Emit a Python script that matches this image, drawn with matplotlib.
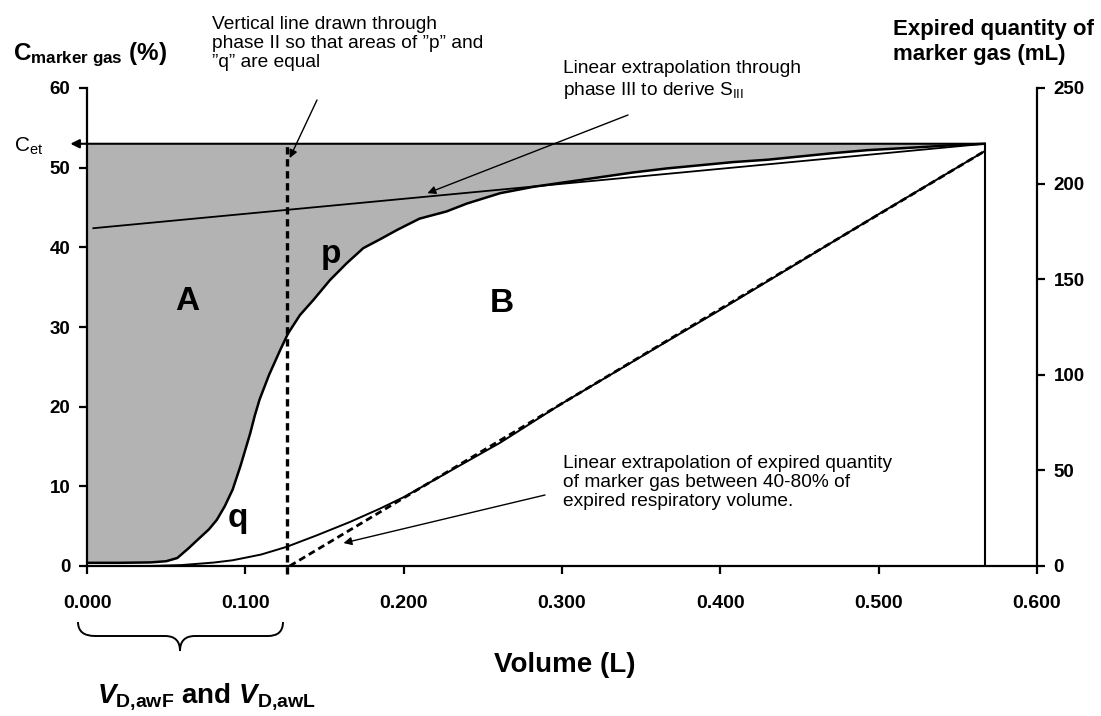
import matplotlib
matplotlib.use("Agg")
import matplotlib.pyplot as plt
from matplotlib.path import Path
from matplotlib.patches import PathPatch

plt.rcParams['font.family'] = ['Liberation Sans', 'DejaVu Sans']
plt.rcParams['mathtext.fontset'] = 'custom'
plt.rcParams['mathtext.rm'] = 'Liberation Sans'
plt.rcParams['mathtext.it'] = 'Liberation Sans:italic'
plt.rcParams['mathtext.bf'] = 'Liberation Sans:bold'
plt.rcParams['mathtext.bfit'] = 'Liberation Sans:bold:italic'

# ---- data ----
volume_c = [0.0, 0.02, 0.04, 0.05, 0.057, 0.064, 0.071, 0.077, 0.082, 0.087, 0.092,
            0.097, 0.100, 0.103, 0.106, 0.109, 0.115, 0.122, 0.127, 0.1345, 0.143,
            0.1535, 0.164, 0.1745, 0.185, 0.196, 0.210, 0.227, 0.240, 0.261, 0.282,
            0.303, 0.324, 0.345, 0.366, 0.387, 0.408, 0.430, 0.450, 0.470, 0.493,
            0.520, 0.545, 0.567]
conc = [0.4, 0.4, 0.45, 0.6, 1.0, 2.2, 3.5, 4.6, 5.8, 7.5, 9.6,
        12.6, 14.6, 16.6, 18.9, 20.9, 24.0, 27.1, 29.2, 31.5, 33.4,
        35.9, 38.0, 39.9, 41.0, 42.2, 43.6, 44.5, 45.5, 46.8, 47.6,
        48.2, 48.8, 49.4, 49.9, 50.3, 50.7, 51.0, 51.4, 51.8, 52.2,
        52.5, 52.8, 53.0]

volume_q = [0.0, 0.04, 0.06, 0.08, 0.092, 0.11, 0.126, 0.145, 0.166, 0.185, 0.2,
            0.23, 0.261, 0.3, 0.35, 0.4, 0.45, 0.5, 0.567]
quantity = [0, 0, 0.5, 1.8, 3, 6, 10, 16, 23, 30, 36,
            50, 64.5, 85, 109.5, 134, 159, 184, 217]

extrap_v = [0.128, 0.567]
extrap_q = [0, 217]

phase3_v = [0.004, 0.567]
phase3_c = [42.4, 53.0]

c_et = 53.0
v_dead = 0.1265
v_end = 0.567

x_ticks = [0.0, 0.1, 0.2, 0.3, 0.4, 0.5, 0.6]
x_labels = ['0.000', '0.100', '0.200', '0.300', '0.400', '0.500', '0.600']
y_ticks = [0, 10, 20, 30, 40, 50, 60]
y2_ticks = [0, 50, 100, 150, 200, 250]

W, H = 1101, 716
fig = plt.figure(figsize=(W / 100, H / 100), dpi=100)
ax = fig.add_axes([87 / W, 1 - 566 / H, (1037 - 87) / W, (566 - 88) / H])
ax2 = ax.twinx()

ax.set_xlim(0, 0.6)
ax.set_ylim(0, 60)
ax2.set_ylim(0, 250)

gray = '#b3b3b3'
ax.fill_between(volume_c, conc, c_et, color=gray, lw=0, zorder=1)
ax.plot(volume_c, conc, color='black', lw=1.8, zorder=3)
ax.plot(phase3_v, phase3_c, color='black', lw=1.3, zorder=3)
# Cet line with arrow to the left
ax.annotate('', xy=(-0.0105, c_et), xytext=(v_end, c_et), xycoords='data',
            arrowprops=dict(arrowstyle='-|>', lw=1.5, color='black',
                            mutation_scale=13, shrinkA=0, shrinkB=0),
            annotation_clip=False, zorder=4)
# end vertical line
ax.plot([v_end, v_end], [0, c_et], color='black', lw=1.5, zorder=3)
# dashed vertical line
ax.plot([v_dead, v_dead], [-1.0, c_et], color='black', lw=2.4, ls=(0, (2.2, 1.4)),
        zorder=4, clip_on=False)

ax2.plot(volume_q, quantity, color='black', lw=1.4, zorder=3)
ax2.plot(extrap_v, extrap_q, color='black', lw=2.0, ls=(0, (2.5, 1.5)), zorder=3)

# spines / ticks
for a in (ax, ax2):
    a.spines['top'].set_visible(False)
    a.patch.set_visible(False)
ax.spines['right'].set_visible(False)
ax2.spines['left'].set_visible(False)
ax2.spines['bottom'].set_visible(False)
for s in ('left', 'bottom'):
    ax.spines[s].set_linewidth(1.6)
ax2.spines['right'].set_linewidth(1.6)

ax.set_xticks(x_ticks)
ax.set_xticklabels(x_labels)
ax.set_yticks(y_ticks)
ax2.set_yticks(y2_ticks)
ax.tick_params(axis='x', direction='out', length=6, width=1.6, pad=15,
               labelsize=14)
ax.tick_params(axis='y', direction='out', length=6, width=1.6, pad=6,
               labelsize=13.5)
ax2.tick_params(axis='y', direction='out', length=6, width=1.6, pad=6,
                labelsize=13.5)
for lab in ax.get_xticklabels() + ax.get_yticklabels() + ax2.get_yticklabels():
    lab.set_fontweight('bold')

# overlay for pixel-positioned text
ov = fig.add_axes([0, 0, 1, 1], zorder=10)
ov.set_xlim(0, W)
ov.set_ylim(H, 0)
ov.axis('off')
ov.patch.set_visible(False)

ov.text(13, 55, r'$\mathbf{C}_{\mathbf{marker\ gas}}$ (%)', fontsize=17.5,
        fontweight='bold', ha='left', va='center')
ov.text(14, 146, r'C$_{\mathrm{et}}$', fontsize=15, ha='left', va='center')
ov.text(893, 42, 'Expired quantity of\nmarker gas (mL)', fontsize=16,
        fontweight='bold', ha='left', va='center', linespacing=1.2)
ov.text(212, 16, 'Vertical line drawn through\nphase II so that areas of \u201dp\u201d and\n\u201dq\u201d are equal',
        fontsize=13.8, ha='left', va='top', linespacing=1.15)
ov.text(563, 60, 'Linear extrapolation through\nphase III to derive S$_{\\mathrm{III}}$',
        fontsize=13.8, ha='left', va='top', linespacing=1.2)
ov.text(563, 455, 'Linear extrapolation of expired quantity\nof marker gas between 40-80% of\nexpired respiratory volume.',
        fontsize=13.8, ha='left', va='top', linespacing=1.15)
ov.text(565, 665, 'Volume (L)', fontsize=20, fontweight='bold', ha='center', va='center')
ov.text(97, 697, r'$\mathbfit{V}_{\mathbf{D{,}awF}}$ and $\mathbfit{V}_{\mathbf{D{,}awL}}$',
        fontsize=20, fontweight='bold', ha='left', va='center')
for txt, (px, py) in {'A': (187, 302), 'p': (331, 254), 'B': (502, 304), 'q': (238, 518)}.items():
    ov.text(px, py, txt, fontsize=24, fontweight='bold', ha='center', va='center')

# brace
verts = [(78, 622), (78, 636), (95, 636),
         (165, 636), (180, 636), (180, 651),
         (180, 636), (195, 636), (268, 636),
         (283, 636), (283, 622)]
codes = [Path.MOVETO, Path.CURVE3, Path.CURVE3,
         Path.LINETO, Path.CURVE3, Path.CURVE3,
         Path.CURVE3, Path.CURVE3, Path.LINETO,
         Path.CURVE3, Path.CURVE3]
ov.add_patch(PathPatch(Path(verts, codes), fill=False, lw=1.4, color='black'))

# annotation arrows (start in figure pixels, tip in data)
arrow_kw = dict(arrowstyle='-|>', lw=1.0, color='black', mutation_scale=12,
                shrinkA=0, shrinkB=0)
ax.annotate('', xy=(0.128, 51.2), xytext=(317, H - 100), textcoords='figure pixels',
            arrowprops=arrow_kw, annotation_clip=False)
ax.annotate('', xy=(0.215, 46.8), xytext=(628, H - 115), textcoords='figure pixels',
            arrowprops=arrow_kw, annotation_clip=False)
ax2.annotate('', xy=(0.162, 12), xytext=(545, H - 495), textcoords='figure pixels',
             arrowprops=arrow_kw, annotation_clip=False)

fig.savefig('out.png', dpi=100)
